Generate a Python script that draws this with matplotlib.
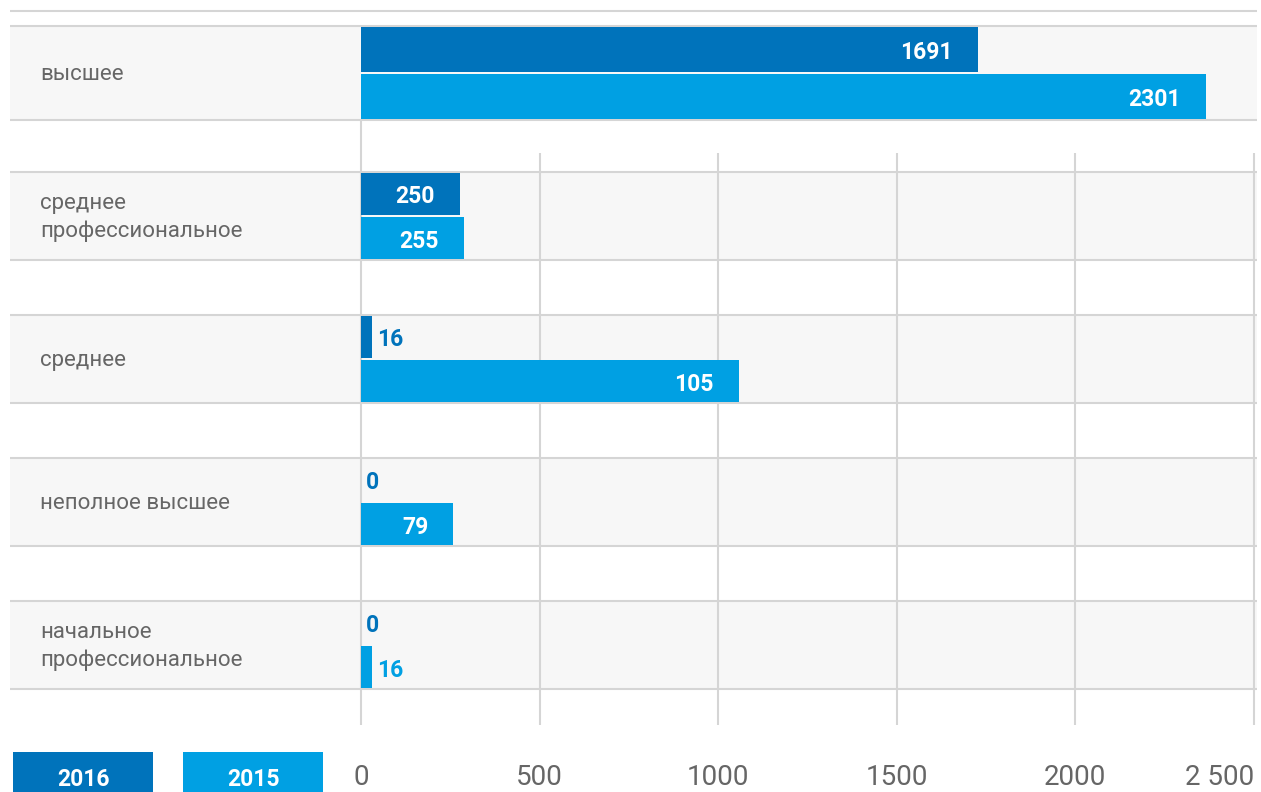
import matplotlib

matplotlib.use("Agg")
import matplotlib.pyplot as plt
import matplotlib.transforms as mtransforms
from matplotlib.patches import Rectangle


categories = ["высшее", "среднее\nпрофессиональное", "среднее", "неполное высшее",
              "начальное\nпрофессиональное"]
series = ["2016", "2015"]
# printed values
labels_2016 = [1691, 250, 16, 0, 0]
labels_2015 = [2301, 255, 105, 79, 16]
# bar lengths as drawn on the axis (the source chart does not scale them exactly)
bars_2016 = [1727, 277, 31, 0, 0]
bars_2015 = [2366, 288, 1058, 258, 31]
ticks = [0, 500, 1000, 1500, 2000, 2500]
tick_labels = ["0", "500", "1000", "1500", "2000", "2 500"]

DARK = "#0073bb"
LIGHT = "#00a0e3"
GRID = "#d5d5d5"
BAND = "#f7f7f7"
TEXT = "#666666"

plt.rcParams["font.family"] = ["Roboto", "DejaVu Sans"]

W, H = 1261, 792
fig = plt.figure(figsize=(W / 100, H / 100), dpi=100)
ax = fig.add_axes([10 / W, (H - 725) / H, 1247 / W, 725 / H])

# scales: 0 -> px 361, 2500 -> px 1254; rows 143 px apart, first row centred at px 72
ux = (1254 - 361) / 2500
ax.set_xlim(-(361 - 10) / ux, (1257 - 361) / ux)
ax.set_ylim((725 - 73) / 143, -73 / 143)

n = len(categories)
band_h = [0.66] + [0.62] * (n - 1)

for i in range(n):
    ax.axhspan(i - band_h[i] / 2, i + band_h[i] / 2, color=BAND, zorder=0, lw=0)
    for y in (i - band_h[i] / 2, i + band_h[i] / 2):
        ax.axhline(y, color=GRID, lw=1.5, zorder=1)
ax.axhline(-0.434, color=GRID, lw=1.5, zorder=1)

ybot = ax.get_ylim()[0]
ax.vlines(ticks[1:], 0.559, ybot, color=GRID, lw=1.5, zorder=2)
ax.vlines(ticks[0], 0.329, ybot, color=GRID, lw=1.5, zorder=2)

for i in range(n):
    q = band_h[i] / 4
    h = band_h[i] / 2 - 0.012
    for yc, length, lab, col in ((i - q, bars_2016[i], labels_2016[i], DARK),
                                 (i + q, bars_2015[i], labels_2015[i], LIGHT)):
        ax.barh(yc, length, height=h, color=col, zorder=3, lw=0)
        if length > 150:
            ax.annotate(str(lab), (length, yc), xytext=(-25, -3), textcoords="offset pixels",
                        ha="right", va="center", color="white", fontsize=16.5,
                        fontweight="bold", zorder=4)
        else:
            ax.annotate(str(lab), (length, yc), xytext=(5, -3), textcoords="offset pixels",
                        ha="left", va="center", color=col, fontsize=16.5,
                        fontweight="bold", zorder=4)

trans = mtransforms.blended_transform_factory(ax.transAxes, ax.transData)
for i, name in enumerate(categories):
    ax.text(30 / 1247, i + 0.01, name, transform=trans, ha="left", va="center",
            color=TEXT, fontsize=16, linespacing=1.38)

ax.set_xticks(ticks)
ax.set_xticklabels(tick_labels, fontsize=20, color=TEXT)
ax.get_xticklabels()[-1].set_ha("right")
ax.tick_params(axis="x", length=0, pad=28)
ax.set_yticks([])
for s in ax.spines.values():
    s.set_visible(False)

# legend boxes at bottom left
for x_left, name, col in ((13, series[0], DARK), (183, series[1], LIGHT)):
    fig.patches.append(Rectangle((x_left / W, 0), 140 / W, 40 / H, transform=fig.transFigure,
                                 color=col, lw=0))
    fig.text((x_left + 70) / W, 6 / H, name, ha="center", va="baseline", color="white",
             fontsize=16.5, fontweight="bold")

fig.savefig("out.png", dpi=100)
